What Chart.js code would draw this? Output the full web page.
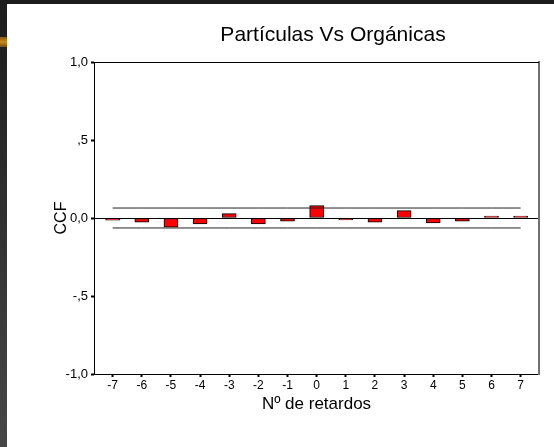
<!DOCTYPE html>
<html lang="es">
<head>
    <meta charset="UTF-8">
    <title>Partículas Vs Orgánicas</title>
    <script src="https://cdn.jsdelivr.net/npm/chart.js"></script>
    <style>
        html, body {
            margin: 0;
            padding: 0;
            width: 554px;
            height: 447px;
            overflow: hidden;
            background: linear-gradient(#1c1c1c, #474747);
        }
        .sheet {
            position: absolute;
            left: 7px;
            top: 4px;
            right: 0;
            bottom: 0;
            background: #fff;
        }
        .mark {
            position: absolute;
            left: 0;
            top: 37px;
            width: 7px;
            height: 10px;
            background: linear-gradient(#8a5a10, #c98a1c, #7a4e0c);
        }
        .wrap {
            position: absolute;
            left: 0;
            top: 0;
            width: 554px;
            height: 447px;
        }
    </style>
</head>
<body>
    <div class="sheet"></div>
    <div class="mark"></div>
    <div class="wrap"><canvas id="ccfChart" width="554" height="447"></canvas></div>

    <script>
        // lags and cross-correlation values
        var lags = [-7, -6, -5, -4, -3, -2, -1, 0, 1, 2, 3, 4, 5, 6, 7];
        var ccf = [-0.014, -0.026, -0.058, -0.038, 0.028, -0.038, -0.021, 0.079, -0.013, -0.026, 0.047, -0.032, -0.021, 0.012, 0.012];
        var upperLimit = [0.064, 0.064, 0.064, 0.064, 0.064, 0.064, 0.064, 0.064, 0.064, 0.064, 0.064, 0.064, 0.064, 0.064, 0.064];
        var lowerLimit = [-0.064, -0.064, -0.064, -0.064, -0.064, -0.064, -0.064, -0.064, -0.064, -0.064, -0.064, -0.064, -0.064, -0.064, -0.064];
        var yTicks = [-1, -0.5, 0, 0.5, 1];
        var yTickLabels = ['-1,0', '-,5', '0,0', ',5', '1,0'];

        var font = "'Liberation Sans', Arial, sans-serif";

        function pairs(values) {
            return lags.map(function (lag, i) { return { x: lag, y: values[i] }; });
        }

        // title and the top edge of the plot box
        var framePlugin = {
            id: 'frame',
            afterDraw: function (chart) {
                var ctx = chart.ctx;
                var a = chart.chartArea;
                ctx.save();
                ctx.fillStyle = '#000';
                ctx.fillRect(a.left, Math.round(a.top), a.right - a.left, 1);
                ctx.font = '21px ' + font;
                ctx.textAlign = 'center';
                ctx.textBaseline = 'middle';
                ctx.fillText('Partículas Vs Orgánicas', 333, 35);
                ctx.restore();
            }
        };

        var ctx = document.getElementById('ccfChart').getContext('2d');
        var ccfChart = new Chart(ctx, {
            type: 'bar',
            data: {
                datasets: [
                    {
                        type: 'line',
                        label: 'Límite superior',
                        data: pairs(upperLimit),
                        borderColor: '#222',
                        borderWidth: 1,
                        pointRadius: 0,
                        fill: false
                    },
                    {
                        type: 'line',
                        label: 'Límite inferior',
                        data: pairs(lowerLimit),
                        borderColor: '#222',
                        borderWidth: 1,
                        pointRadius: 0,
                        fill: false
                    },
                    {
                        label: 'CCF',
                        data: pairs(ccf),
                        backgroundColor: '#ff0000',
                        borderColor: '#000',
                        borderWidth: 1,
                        borderSkipped: false,
                        barThickness: 14
                    }
                ]
            },
            options: {
                responsive: false,
                animation: false,
                layout: { padding: { top: 62, right: 15, bottom: 0, left: 0 } },
                plugins: {
                    legend: { display: false },
                    tooltip: { enabled: false }
                },
                scales: {
                    x: {
                        type: 'linear',
                        offset: false,
                        min: -7.64,
                        max: 7.63,
                        afterFit: function (s) { s.height = 73; },
                        afterBuildTicks: function (s) {
                            s.ticks = lags.map(function (v) { return { value: v }; });
                        },
                        ticks: {
                            color: '#000',
                            padding: 1,
                            font: { family: font, size: 12 },
                            maxRotation: 0,
                            callback: function (v) { return String(v); }
                        },
                        grid: {
                            offset: false,
                            drawOnChartArea: false,
                            tickLength: 3,
                            tickWidth: 2,
                            tickColor: '#000'
                        },
                        border: { color: '#000', width: 1 },
                        title: {
                            display: true,
                            text: 'Nº de retardos',
                            color: '#000',
                            font: { family: font, size: 17 },
                            padding: { top: 0, bottom: 32 }
                        }
                    },
                    y: {
                        min: -1,
                        max: 1,
                        afterFit: function (s) { s.width = 94; },
                        afterBuildTicks: function (s) {
                            s.ticks = yTicks.map(function (v) { return { value: v }; });
                        },
                        ticks: {
                            color: '#000',
                            padding: 3,
                            font: { family: font, size: 13 },
                            callback: function (v) { return yTickLabels[yTicks.indexOf(v)]; }
                        },
                        grid: {
                            drawOnChartArea: true,
                            color: function (c) { return c.tick && c.tick.value === 0 ? '#000' : 'rgba(0,0,0,0)'; },
                            tickLength: 3,
                            tickWidth: 2,
                            tickColor: '#000'
                        },
                        border: { color: '#000', width: 1 },
                        title: {
                            display: true,
                            text: 'CCF',
                            color: '#000',
                            font: { family: font, size: 16 },
                            padding: { top: 52, bottom: 0 }
                        }
                    },
                    // right edge of the box
                    yRight: {
                        position: 'right',
                        min: -1,
                        max: 1,
                        afterFit: function (s) { s.width = 0; },
                        ticks: { display: false },
                        grid: { drawOnChartArea: false, drawTicks: false },
                        border: { display: true, color: '#707070', width: 2 }
                    }
                }
            },
            plugins: [framePlugin]
        });
    </script>
</body>
</html>
